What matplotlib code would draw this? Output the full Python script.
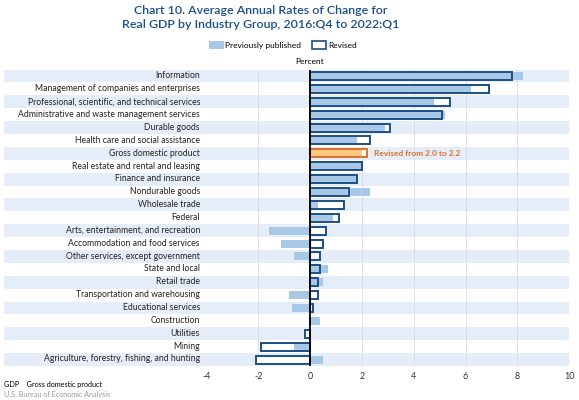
import matplotlib.pyplot as plt
from matplotlib.patches import Rectangle, Patch
from matplotlib.transforms import blended_transform_factory

plt.rcParams['font.family'] = ['Lato', 'DejaVu Sans']

industries = [
    "Information",
    "Management of companies and enterprises",
    "Professional, scientific, and technical services",
    "Administrative and waste management services",
    "Durable goods",
    "Health care and social assistance",
    "Gross domestic product",
    "Real estate and rental and leasing",
    "Finance and insurance",
    "Nondurable goods",
    "Wholesale trade",
    "Federal",
    "Arts, entertainment, and recreation",
    "Accommodation and food services",
    "Other services, except government",
    "State and local",
    "Retail trade",
    "Transportation and warehousing",
    "Educational services",
    "Construction",
    "Utilities",
    "Mining",
    "Agriculture, forestry, fishing, and hunting",
]
previous = [8.2, 6.2, 4.8, 5.2, 2.9, 1.8, 2.0, 2.0, 1.8, 2.3, 0.3, 0.9, -1.6, -1.1,
            -0.6, 0.7, 0.5, -0.8, -0.7, 0.4, 0.0, -0.6, 0.5]
revised = [7.8, 6.9, 5.4, 5.1, 3.1, 2.3, 2.2, 2.0, 1.8, 1.5, 1.3, 1.1, 0.6, 0.5,
           0.4, 0.4, 0.3, 0.3, 0.1, 0.0, -0.2, -1.9, -2.1]
xticks = [-4, -2, 0, 2, 4, 6, 8, 10]

light_blue = '#a8c8e8'
dark_blue = '#1d4f82'
stripe = '#e4edf8'
gdp_fill = '#fbc97f'
gdp_edge = '#e0702a'

fig = plt.figure(figsize=(5.79, 4), dpi=100)
ax = fig.add_axes([206.3 / 579, 1 - 366 / 400, (569.3 - 206.3) / 579, (366 - 69.5) / 400])

n = len(industries)
y = list(range(n))
ax.set_ylim(n - 0.5, -0.5)
ax.set_xlim(-4, 10)

# row stripes across the whole width
trans = blended_transform_factory(fig.transFigure, ax.transData)
for i in range(n):
    if i % 2 == 0:
        ax.add_patch(Rectangle((4 / 579, i - 0.5), (569.3 - 4) / 579, 1, transform=trans,
                               facecolor=stripe, edgecolor='none', clip_on=False, zorder=0))

for xv in xticks[1:]:
    if xv != 0:
        ax.axvline(xv, color='#d8dde3', lw=0.6, zorder=1)

h = 0.62
fills = [gdp_fill if name == "Gross domestic product" else light_blue for name in industries]
edges = [gdp_edge if name == "Gross domestic product" else dark_blue for name in industries]

ax.barh(y, revised, height=h, color='white', edgecolor='none', zorder=2)
ax.barh(y, previous, height=h, color=fills, edgecolor='none', zorder=3)
ax.barh(y, revised, height=h, color='none', edgecolor=edges, linewidth=1.4, zorder=4)

ax.axvline(0, color='black', lw=1.3, zorder=5)

gdp_i = industries.index("Gross domestic product")
ax.text(2.45, gdp_i, "Revised from 2.0 to 2.2", color=gdp_edge, fontsize=6.0,
        va='center', ha='left', fontweight='bold', zorder=6)

for i, name in enumerate(industries):
    fig.text(200 / 579, 1 - (76 + i * 12.86) / 400, name, ha='right', va='center',
             fontsize=6.2, color='#222222')

ax.set_xticks(xticks)
ax.set_xticklabels([str(v) for v in xticks], fontsize=6.4, color='#333333')
ax.tick_params(axis='x', length=0, pad=4)
ax.set_yticks([])
for s in ax.spines.values():
    s.set_visible(False)

fig.text(261 / 579, 1 - 5 / 400, "Chart 10. Average Annual Rates of Change for\nReal GDP by Industry Group, 2016:Q4 to 2022:Q1",
         ha='center', va='top', fontsize=8.9, fontweight='semibold', color='#1a4e8c',
         linespacing=1.35)

handles = [Patch(facecolor=light_blue, edgecolor='none', label='Previously published'),
           Patch(facecolor='white', edgecolor=dark_blue, linewidth=1.2, label='Revised')]
fig.legend(handles=handles, loc='center', bbox_to_anchor=(283 / 579, 1 - 45 / 400), ncol=2,
           frameon=False, fontsize=6.0, handlelength=1.7, handleheight=1.0,
           columnspacing=1.3, handletextpad=0.2)

fig.text(310 / 579, 1 - 62 / 400, "Percent", ha='center', va='center', fontsize=6.0)

fig.text(4 / 579, 1 - 384 / 400, "GDP    Gross domestic product", ha='left', va='center', fontsize=5.2)
fig.text(4 / 579, 1 - 394 / 400, "U.S. Bureau of Economic Analysis", ha='left', va='center',
         fontsize=5.2, color='#999999')

fig.savefig('out.png', dpi=100)
